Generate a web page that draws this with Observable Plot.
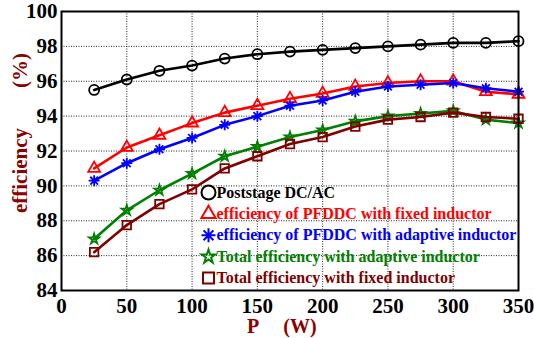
<!DOCTYPE html>
<html>
<head>
<meta charset="utf-8">
<script src="https://cdn.jsdelivr.net/npm/d3@7"></script>
<script src="https://cdn.jsdelivr.net/npm/@observablehq/plot@0.6"></script>
<style>
  html, body { margin: 0; padding: 0; background: #fff; }
  #chart svg { display: block; }
  #chart svg, #chart svg text { font-family: "Liberation Serif", "Times New Roman", serif !important; }
</style>
</head>
<body>
<div id="chart"></div>
<script>
// Output power (W)
const power = [25, 50, 75, 100, 125, 150, 175, 200, 225, 250, 275, 300, 325, 350];

// Efficiency (%) of each stage / configuration
const poststage    = [95.5, 96.1, 96.6, 96.9, 97.3, 97.55, 97.7, 97.8, 97.9, 98.0, 98.1, 98.2, 98.2, 98.3];
const pfddcFixed   = [91.0, 92.2, 92.9, 93.6, 94.2, 94.6, 95.0, 95.3, 95.7, 95.9, 96.0, 96.0, 95.4, 95.25];
const pfddcAdapt   = [90.3, 91.3, 92.1, 92.75, 93.5, 94.0, 94.6, 94.9, 95.4, 95.7, 95.8, 95.9, 95.6, 95.4];
const totalAdapt   = [86.95, 88.6, 89.75, 90.7, 91.7, 92.25, 92.8, 93.2, 93.7, 94.0, 94.15, 94.3, 93.8, 93.6];
const totalFixed   = [86.2, 87.75, 88.95, 89.8, 91.0, 91.7, 92.4, 92.8, 93.4, 93.8, 93.95, 94.2, 93.95, 93.85];

const seriesNames  = [
  "Poststage DC/AC",
  "efficiency of PFDDC with fixed inductor",
  "efficiency of PFDDC with adaptive inductor",
  "Total efficiency with adaptive inductor",
  "Total efficiency with fixed inductor"
];
const seriesValues  = [poststage, pfddcFixed, pfddcAdapt, totalAdapt, totalFixed];
const seriesColors  = ["#000000", "#ff0000", "#0000ff", "#008000", "#800000"];

// Eight-spoke asterisk (stroke only)
const asterisk8 = {
  draw(context, size) {
    const r = Math.sqrt(size / Math.PI);
    const d = r * Math.SQRT1_2;
    context.moveTo(-r, 0); context.lineTo(r, 0);
    context.moveTo(0, -r); context.lineTo(0, r);
    context.moveTo(-d, -d); context.lineTo(d, d);
    context.moveTo(-d, d); context.lineTo(d, -d);
  }
};
const seriesSymbols = ["circle", "triangle", asterisk8, "star", "square"];
const markerR       = [5, 4.4, 5.5, 3.2, 4.8];
const legendR       = [7, 5.3, 7, 4.3, 6.2];

const xTicks = [0, 50, 100, 150, 200, 250, 300, 350];
const yTicks = [84, 86, 88, 90, 92, 94, 96, 98, 100];

const font = "Liberation Serif";
const labelColor = "#8b0000";

const marks = [
  Plot.gridX(xTicks, {stroke: "#000", strokeOpacity: 0.85, strokeDasharray: "1,1.5", strokeWidth: 1}),
  Plot.gridY(yTicks, {stroke: "#000", strokeOpacity: 0.85, strokeDasharray: "1,1.5", strokeWidth: 1}),
  Plot.axisX({ticks: xTicks, tickSize: 0, tickPadding: 8, fontSize: 21, fontWeight: "bold",
    fontFamily: font, label: null}),
  Plot.axisY({ticks: yTicks, tickSize: 0, tickPadding: 4, fontSize: 21, fontWeight: "bold",
    fontFamily: font, label: null})
];

seriesValues.forEach((vals, i) => {
  const rows = power.map((p, j) => ({p, v: vals[j]}));
  marks.push(Plot.line(rows, {x: "p", y: "v", stroke: seriesColors[i], strokeWidth: 2.6}));
  marks.push(Plot.dot(rows, {x: "p", y: "v", symbol: () => seriesSymbols[i], stroke: seriesColors[i],
    fill: "none", r: markerR[i], strokeWidth: 1.8}));
});

// Legend entries, stacked inside the plot area
seriesNames.forEach((name, i) => {
  const dy = 181 + i * 21.4;
  marks.push(Plot.dot([name], {frameAnchor: "top-left", dx: 147, dy, symbol: () => seriesSymbols[i],
    stroke: seriesColors[i], fill: "none", r: legendR[i], strokeWidth: 2}));
  marks.push(Plot.text([name], {frameAnchor: "top-left", dx: 155, dy, text: d => d,
    textAnchor: "start", lineAnchor: "middle", fill: seriesColors[i], fontSize: 16,
    fontWeight: "bold", fontFamily: font}));
});

// Axis titles
const titleStyle = {fill: labelColor, fontSize: 21, fontWeight: "bold", fontFamily: font,
  textAnchor: "middle", lineAnchor: "middle", text: d => d};
marks.push(
  Plot.text(["(%)"], {...titleStyle, frameAnchor: "top-left", dx: -41, dy: 59, rotate: -90}),
  Plot.text(["efficiency"], {...titleStyle, frameAnchor: "top-left", dx: -41, dy: 159, rotate: -90}),
  Plot.text(["P"], {...titleStyle, frameAnchor: "bottom", dx: -37, dy: 36, fontSize: 20}),
  Plot.text(["(W)"], {...titleStyle, frameAnchor: "bottom", dx: 10, dy: 36, fontSize: 20}),
  Plot.frame({stroke: "#000", strokeWidth: 2})
);

const chart = Plot.plot({
  width: 534,
  height: 338,
  marginLeft: 61,
  marginRight: 16,
  marginTop: 11,
  marginBottom: 48,
  style: {fontFamily: font, background: "#fff", color: "#000"},
  x: {domain: [0, 350]},
  y: {domain: [84, 100]},
  symbol: {type: "identity"},
  marks
});
document.getElementById("chart").append(chart);
</script>
</body>
</html>
